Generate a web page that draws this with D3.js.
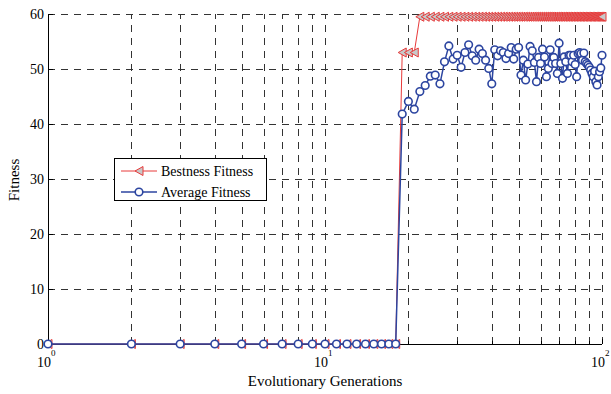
<!DOCTYPE html>
<html>
<head>
<meta charset="utf-8">
<script src="https://cdn.jsdelivr.net/npm/d3@7"></script>
<style>
  body { margin: 0; background: #fff; }
  svg { display: block; font-family: "Liberation Serif", "Times New Roman", serif; }
</style>
</head>
<body>
<script>
// generations 1..100
const generations = d3.range(1, 101)

// best fitness: zero until gen 18, then 53 for three gens, then flat
const bestFitness = [
  0, 0, 0, 0, 0, 0, 0, 0, 0, 0,
  0, 0, 0, 0, 0, 0, 0, 0, 53, 53,
  53, 59.5, 59.5, 59.5, 59.5, 59.5, 59.5, 59.5, 59.5, 59.5,
  59.5, 59.5, 59.5, 59.5, 59.5, 59.5, 59.5, 59.5, 59.5, 59.5,
  59.5, 59.5, 59.5, 59.5, 59.5, 59.5, 59.5, 59.5, 59.5, 59.5,
  59.5, 59.5, 59.5, 59.5, 59.5, 59.5, 59.5, 59.5, 59.5, 59.5,
  59.5, 59.5, 59.5, 59.5, 59.5, 59.5, 59.5, 59.5, 59.5, 59.5,
  59.5, 59.5, 59.5, 59.5, 59.5, 59.5, 59.5, 59.5, 59.5, 59.5,
  59.5, 59.5, 59.5, 59.5, 59.5, 59.5, 59.5, 59.5, 59.5, 59.5,
  59.5, 59.5, 59.5, 59.5, 59.5, 59.5, 59.5, 59.5, 59.5, 59.5
]

const avgFitness = [
  0, 0, 0, 0, 0, 0, 0, 0, 0, 0,
  0, 0, 0, 0, 0, 0, 0, 0, 41.8, 44.1,
  42.7, 45.9, 47.0, 48.7, 48.9, 47.3, 51.3, 54.2, 51.8, 52.5,
  50.3, 53.0, 54.4, 52.4, 51.6, 53.6, 52.8, 51.6, 50.1, 47.3,
  53.5, 52.4, 53.3, 53.0, 51.9, 52.8, 53.9, 51.8, 53.6, 53.9,
  48.9, 51.6, 48.0, 50.9, 54.1, 53.3, 51.2, 47.7, 52.1, 51.0,
  53.6, 52.2, 48.6, 50.1, 53.5, 51.0, 52.1, 51.0, 49.2, 54.7,
  51.0, 48.3, 52.2, 51.3, 49.2, 52.5, 52.5, 51.3, 52.5, 50.8,
  48.6, 52.8, 53.0, 52.8, 51.6, 52.9, 51.3, 51.0, 50.7, 50.3,
  49.8, 49.2, 48.6, 49.6, 47.7, 47.1, 48.6, 49.5, 50.2, 52.5
]

const yTicks = [0, 10, 20, 30, 40, 50, 60]
const xMajor = [1, 10, 100]
const xMinor = [2, 3, 4, 5, 6, 7, 8, 9, 20, 30, 40, 50, 60, 70, 80, 90]
const legendLabels = ["Bestness Fitness", "Average Fitness"]

const width = 611, height = 394
const red = "#e83a3a", blue = "#2c45a0"

const x = d3.scaleLog().domain([1, 100]).range([48, 602])
const y = d3.scaleLinear().domain([0, 60]).range([344, 14])

const svg = d3.select("body").append("svg")
  .attr("width", width)
  .attr("height", height)

// grid
const grid = svg.append("g")
  .attr("stroke", "#333")
  .attr("stroke-width", 1)
  .attr("stroke-dasharray", "7,6")
grid.selectAll("line.v")
  .data(xMinor.concat([10, 100]))
  .join("line")
  .attr("x1", d => Math.round(x(d)) + 0.5)
  .attr("x2", d => Math.round(x(d)) + 0.5)
  .attr("y1", y(0))
  .attr("y2", y(60))
grid.selectAll("line.h")
  .data(yTicks.filter(d => d > 0))
  .join("line")
  .attr("x1", x(1))
  .attr("x2", x(100))
  .attr("y1", d => Math.round(y(d)) + 0.5)
  .attr("y2", d => Math.round(y(d)) + 0.5)

// axes lines + inward ticks
const ax = svg.append("g").attr("stroke", "#000").attr("stroke-width", 1)
ax.append("line").attr("x1", 48.5).attr("x2", 48.5).attr("y1", y(60)).attr("y2", y(0) + 0.5)
ax.append("line").attr("x1", 48).attr("x2", x(100)).attr("y1", 344.5).attr("y2", 344.5)
ax.selectAll("line.yt").data(yTicks).join("line")
  .attr("x1", 48).attr("x2", 53)
  .attr("y1", d => Math.round(y(d)) + 0.5).attr("y2", d => Math.round(y(d)) + 0.5)
ax.selectAll("line.xt").data(xMajor.concat(xMinor)).join("line")
  .attr("x1", d => Math.round(x(d)) + 0.5).attr("x2", d => Math.round(x(d)) + 0.5)
  .attr("y1", 344).attr("y2", d => xMajor.includes(d) ? 339 : 341)

// tick labels
svg.append("g").attr("font-size", 14).attr("text-anchor", "end")
  .selectAll("text").data(yTicks).join("text")
  .attr("x", 44).attr("y", d => y(d) + 5)
  .text(d => d)

const xl = svg.append("g").attr("font-size", 14)
  .selectAll("text").data(xMajor).join("text")
  .attr("x", d => x(d) - 11).attr("y", 367)
xl.append("tspan").text("10")
xl.append("tspan").attr("font-size", 9).attr("dy", -11).text(d => Math.round(Math.log10(d)))

svg.append("text").attr("font-size", 15).attr("text-anchor", "middle")
  .attr("x", 325).attr("y", 386).text("Evolutionary Generations")
svg.append("text").attr("font-size", 15).attr("text-anchor", "middle")
  .attr("transform", "translate(19,180) rotate(-90)").text("Fitness")

// series
const tri = "M-4,0L4,-4.5L4,4.5Z"
const bestData = generations.map((g, i) => [g, bestFitness[i]])
const avgData = generations.map((g, i) => [g, avgFitness[i]])
const line = d3.line().x(d => x(d[0])).y(d => y(d[1]))

svg.append("path").datum(bestData)
  .attr("fill", "none").attr("stroke", red).attr("stroke-width", 1).attr("d", line)
svg.append("g").selectAll("path").data(bestData).join("path")
  .attr("transform", d => `translate(${x(d[0])},${y(d[1])})`)
  .attr("d", tri).attr("fill", "#c8c8c8").attr("stroke", red).attr("stroke-width", 1)

svg.append("path").datum(avgData)
  .attr("fill", "none").attr("stroke", blue).attr("stroke-width", 1.5).attr("d", line)
svg.append("g").selectAll("circle").data(avgData).join("circle")
  .attr("cx", d => x(d[0])).attr("cy", d => y(d[1])).attr("r", 3.8)
  .attr("fill", "#fff").attr("stroke", blue).attr("stroke-width", 1.6)

// legend
const lg = svg.append("g")
lg.append("rect").attr("x", 114.5).attr("y", 158.5).attr("width", 152).attr("height", 42)
  .attr("fill", "#fff").attr("stroke", "#000").attr("stroke-width", 1)
const rows = lg.selectAll("g").data(legendLabels).join("g")
  .attr("transform", (d, i) => `translate(0,${171 + i * 21})`)
rows.append("line").attr("x1", 121).attr("x2", 157)
  .attr("stroke", (d, i) => i ? blue : red).attr("stroke-width", (d, i) => i ? 1.5 : 1)
rows.filter((d, i) => i === 0).append("path")
  .attr("transform", "translate(139,0)").attr("d", tri)
  .attr("fill", "#c8c8c8").attr("stroke", red)
rows.filter((d, i) => i === 1).append("circle")
  .attr("cx", 139).attr("r", 3.8).attr("fill", "#fff").attr("stroke", blue).attr("stroke-width", 1.6)
rows.append("text").attr("x", 161).attr("y", 5).attr("font-size", 14).text(d => d)
</script>
</body>
</html>
